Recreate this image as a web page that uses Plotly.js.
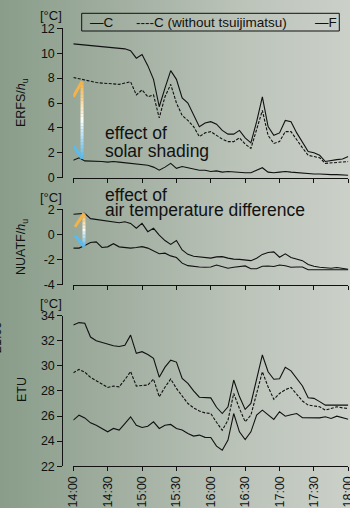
<!DOCTYPE html>
<html>
<head>
<meta charset="utf-8">
<script src="https://cdn.plot.ly/plotly-3.0.1.min.js"></script>
<style>
html,body{margin:0;padding:0;width:350px;height:508px;overflow:hidden;}
body{background:linear-gradient(90deg,#899d8a 0%,#a2afa1 35%,#bcc4ba 70%,#cbd0c9 100%);}
#chart{width:350px;height:508px;}
</style>
</head>
<body>
<div id="chart"></div>
<script>
// time of day, every 5 minutes
const times = ["14:00","14:05","14:10","14:15","14:20","14:25","14:30","14:35","14:40","14:45","14:50","14:55",
"15:00","15:05","15:10","15:15","15:20","15:25","15:30","15:35","15:40","15:45","15:50","15:55",
"16:00","16:05","16:10","16:15","16:20","16:25","16:30","16:35","16:40","16:45","16:50","16:55",
"17:00","17:05","17:10","17:15","17:20","17:25","17:30","17:35","17:40","17:45","17:50","17:55","18:00"];
const tickTimes = ["14:00","14:30","15:00","15:30","16:00","16:30","17:00","17:30","18:00"];

// ERFS/h_u
const erfsC = [10.75,10.7,10.65,10.6,10.55,10.5,10.5,10.45,10.4,10.35,10.2,9.6,
9.9,9.0,7.9,5.7,7.2,8.6,7.9,6.4,6.0,5.0,4.1,4.4,
4.5,4.3,3.8,3.5,3.5,3.8,3.2,2.8,4.5,6.5,4.1,3.4,
3.6,4.6,4.5,3.6,2.8,2.1,2.0,1.8,1.3,1.4,1.45,1.5,1.7];
const erfsCwo = [8.05,7.95,7.85,7.7,7.65,7.6,7.55,7.5,7.5,7.6,7.7,6.65,
7.05,6.5,6.65,4.8,6.5,7.5,6.0,5.0,4.6,4.1,3.3,3.6,
3.7,3.4,3.1,2.9,2.9,3.2,2.7,2.35,3.8,5.4,3.4,2.75,
2.9,3.7,3.7,3.0,2.4,1.8,1.7,1.6,1.15,1.2,1.2,1.25,1.3];
const erfsF = [1.4,1.6,1.35,1.35,1.3,1.3,1.25,1.3,1.25,1.2,1.15,1.1,
1.0,1.0,0.85,0.6,0.85,1.15,0.75,0.9,0.8,0.7,0.6,0.6,
0.5,0.55,0.45,0.5,0.45,0.45,0.4,0.4,0.6,0.8,0.45,0.4,
0.45,0.5,0.45,0.4,0.35,0.3,0.3,0.3,0.25,0.25,0.25,0.2,0.2];

// NUATF/h_u
const nuatfC = [1.6,1.62,1.67,1.25,1.19,1.1,1.05,0.97,0.92,1.0,0.87,0.48,
0.87,0.21,0.48,-0.06,-0.5,-0.8,-0.5,-1.25,-1.6,-1.75,-1.8,-1.9,
-1.9,-1.8,-1.78,-1.9,-1.98,-2.0,-2.05,-2.1,-1.9,-1.6,-1.45,-1.4,
-1.83,-1.56,-1.85,-1.95,-2.1,-2.4,-2.55,-2.62,-2.67,-2.7,-2.65,-2.72,-2.78];
const nuatfF = [-1.1,-1.1,-0.9,-0.65,-0.6,-1.05,-1.0,-0.75,-1.0,-1.05,-1.1,-1.05,
-0.98,-1.1,-1.3,-1.55,-1.5,-1.72,-1.85,-2.3,-2.5,-2.57,-2.6,-2.62,
-2.6,-2.45,-2.6,-2.7,-2.63,-2.6,-2.52,-2.75,-2.75,-2.55,-2.52,-2.57,
-2.45,-2.5,-2.62,-2.6,-2.6,-2.83,-2.83,-2.83,-2.82,-2.78,-2.8,-2.82,-2.83];

// ETU
const etuC = [33.25,33.45,33.4,32.3,32.0,31.85,31.72,31.6,31.55,31.65,32.45,31.0,
31.13,30.9,30.6,29.1,29.9,30.45,30.3,29.0,28.6,28.0,27.5,27.5,
27.45,26.7,26.2,26.74,28.87,27.55,26.53,27.0,29.0,30.87,29.53,28.93,
28.97,29.88,29.6,28.95,28.4,27.46,27.41,27.15,26.87,26.87,26.87,26.87,26.87];
const etuCwo = [29.45,29.72,29.5,29.08,28.82,28.55,28.28,28.39,28.33,28.9,29.55,28.39,
28.42,28.47,28.95,27.53,28.3,28.95,28.2,27.6,27.0,26.65,26.4,26.25,
26.2,25.5,24.87,25.67,27.8,26.6,25.54,26.07,27.8,29.53,28.33,27.33,
27.8,28.1,28.28,27.7,27.2,26.87,26.8,26.74,26.47,26.6,26.74,26.65,26.6];
const etuF = [25.67,26.07,25.85,25.46,25.27,25.0,24.74,25.01,24.88,25.4,25.94,25.27,
25.09,25.19,25.54,25.01,25.27,25.33,25.01,24.88,24.6,24.4,24.48,24.3,
24.29,23.6,23.28,24.08,26.2,24.74,24.13,24.74,26.07,26.47,26.07,25.73,
26.34,25.99,26.1,26.2,25.86,25.85,25.81,25.85,25.94,25.81,25.99,25.9,25.75];

const erfsTicks = [0,2,4,6,8,10,12];
const nuatfTicks = [-4,-2,0,2];
const nuatfTickText = ["-4","-2","0","2"];
const etuTicks = [22,24,26,28,30,32,34];

const D = t => "2000-01-01 " + t;
const X = times.map(D);

const FONT = "Liberation Sans, Arial, sans-serif";
const solid = {color:"#111", width:1.1};
const dashed = {color:"#111", width:1.1, dash:"3px,1.5px"};

function tr(y, line, xa, ya){ return {x:X, y:y, type:"scatter", mode:"lines", line:line, xaxis:xa, yaxis:ya, showlegend:false, hoverinfo:"skip", cliponaxis:false}; }

const data = [
  tr(erfsC, solid, "x", "y"), tr(erfsCwo, dashed, "x", "y"), tr(erfsF, solid, "x", "y"),
  tr(nuatfC, solid, "x2", "y2"), tr(nuatfF, solid, "x2", "y2"),
  tr(etuC, solid, "x3", "y3"), tr(etuCwo, dashed, "x3", "y3"), tr(etuF, solid, "x3", "y3")
];

const H = 508, W = 350;
const py = p => 1 - p / H;
const pxw = p => p / W;
const xdom = [pxw(73.3), pxw(348.3)];
const xrange = [D("13:59:59"), D("18:00:01")];

function xax(anchor, labels){
  return {domain:xdom, range:xrange, type:"date", anchor:anchor, showline:true, linecolor:"#111", linewidth:1,
    ticks:"outside", ticklen:4, tickwidth:1, tickcolor:"#111", showgrid:false, zeroline:false,
    tickmode:"array", tickvals:tickTimes.map(D), ticktext:tickTimes, showticklabels:labels, tickangle:-90,
    ticklabeloverflow:"allow",
    tickfont:{family:FONT, size:12.5, color:"#111"}, fixedrange:true};
}
function yax(dom, range, tv, tt){
  return {domain:dom, range:range, anchor:"free", position:pxw(62.3), showline:true, linecolor:"#111", linewidth:1,
    ticks:"outside", ticklen:5, tickwidth:1, tickcolor:"#111", showgrid:false, zeroline:false,
    tickmode:"array", tickvals:tv, ticktext:tt, tickfont:{family:FONT, size:12.5, color:"#111"}, fixedrange:true};
}

// gradient double arrows (decoration)
function lerp(a,b,f){return Math.round(a+(b-a)*f);}
const orange=[242,176,66], white=[255,255,255], blue=[84,184,236];
function colAt(f){ // f 0 top .. 1 bottom
  let c;
  if(f<0.5){const g=f/0.5;c=[lerp(orange[0],white[0],g),lerp(orange[1],white[1],g),lerp(orange[2],white[2],g)];}
  else{const g=(f-0.5)/0.5;c=[lerp(white[0],blue[0],g),lerp(white[1],blue[1],g),lerp(white[2],blue[2],g)];}
  return "rgb("+c.join(",")+")";
}
function gradArrow(xa, ya, xs, xh, yTop, yBot, yHeadTop, yHeadBot){
  const out=[]; const n=24;
  for(let i=0;i<n;i++){
    const f0=i/n, f1=(i+1)/n;
    out.push({type:"line", xref:xa, yref:ya, x0:xs, x1:xs, y0:yTop+(yBot-yTop)*f0, y1:yTop+(yBot-yTop)*f1,
      line:{color:colAt((f0+f1)/2), width:3}});
  }
  out.push({type:"line", xref:xa, yref:ya, x0:xs, x1:xh, y0:yTop, y1:yHeadTop, line:{color:colAt(0.02), width:3}});
  out.push({type:"line", xref:xa, yref:ya, x0:xs, x1:xh, y0:yBot, y1:yHeadBot, line:{color:colAt(0.98), width:3}});
  return out;
}

const shapes = [].concat(
  gradArrow("x","y", D("14:07:36"), D("14:00:00"), 7.73, 1.55, 6.5, 2.55),
  gradArrow("x2","y2", D("14:09:18"), D("14:01:30"), 1.67, -0.98, 0.6, -0.1),
  [{type:"rect", xref:"paper", yref:"paper", x0:pxw(81.7), x1:pxw(339.3), y0:py(31), y1:py(13.3),
    line:{color:"#111", width:1}, fillcolor:"rgba(0,0,0,0)"}]
);

function ann(text, x, y, opt){
  return Object.assign({text:text, xref:"paper", yref:"paper", x:pxw(x), y:py(y), showarrow:false,
    xanchor:"left", yanchor:"middle", font:{family:FONT, size:13, color:"#111"}}, opt||{});
}
const annotations = [
  ann("—C", 88.5, 22.5, {font:{family:FONT, size:13.5, color:"#111"}}),
  ann("----C (without tsuijimatsu)", 133.5, 22.5, {font:{family:FONT, size:13.5, color:"#111"}}),
  ann("—F", 312.5, 22.5, {font:{family:FONT, size:13.5, color:"#111"}}),
  ann("[°C]", 51.5, 16, {xanchor:"center"}),
  ann("[°C]", 51.5, 197, {xanchor:"center"}),
  ann("[°C]", 51.5, 303, {xanchor:"center"}),
  ann("ERFS/<i>h</i><sub>u</sub>", 22, 103, {xanchor:"center", textangle:-90, font:{family:FONT, size:12.5, color:"#111"}}),
  ann("NUATF/<i>h</i><sub>u</sub>", 22, 247, {xanchor:"center", textangle:-90, font:{family:FONT, size:12.5, color:"#111"}}),
  ann("ETU", 22, 390, {xanchor:"center", textangle:-90, font:{family:FONT, size:12.5, color:"#111"}}),
  ann("21:00", -3, 338, {xanchor:"center", textangle:-90, font:{family:FONT, size:12.5, color:"#111"}}),
  ann("effect of", 102.5, 133, {font:{family:FONT, size:17.5, color:"#111"}}),
  ann("solar shading", 102.5, 151, {font:{family:FONT, size:17.5, color:"#111"}}),
  ann("effect of", 102.5, 194.5, {font:{family:FONT, size:17.5, color:"#111"}}),
  ann("air temperature difference", 102.5, 210.5, {font:{family:FONT, size:17.5, color:"#111"}})
];

const layout = {
  width:W, height:H, autosize:false,
  margin:{l:0, r:0, t:0, b:0, pad:0},
  paper_bgcolor:"rgba(0,0,0,0)", plot_bgcolor:"rgba(0,0,0,0)",
  showlegend:false,
  font:{family:FONT, color:"#111"},
  xaxis: xax("y", false),
  xaxis2: xax("y2", false),
  xaxis3: xax("y3", true),
  yaxis: yax([py(177.7), py(28.3)], [0,12], erfsTicks, erfsTicks.map(String)),
  yaxis2: yax([py(284.5), py(209.2)], [-4,2], nuatfTicks, nuatfTickText),
  yaxis3: yax([py(466.2), py(315.7)], [22,34], etuTicks, etuTicks.map(String)),
  shapes: shapes,
  annotations: annotations
};

Plotly.newPlot("chart", data, layout, {displayModeBar:false, staticPlot:true});
</script>
</body>
</html>
